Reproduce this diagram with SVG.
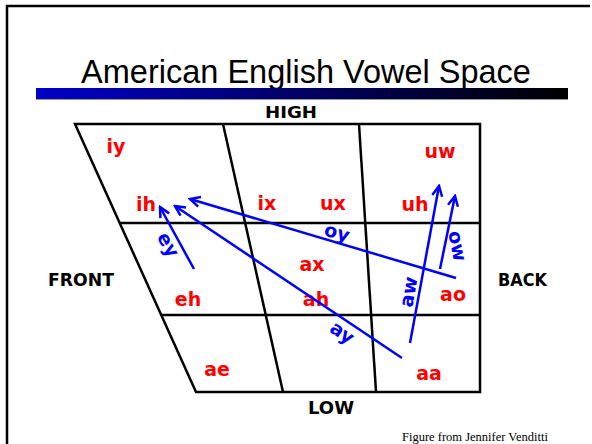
<svg xmlns="http://www.w3.org/2000/svg" width="592" height="444" viewBox="0 0 592 444">
<defs>
<linearGradient id="bar" x1="0" y1="0" x2="1" y2="0">
<stop offset="0" stop-color="#0000c8"/>
<stop offset="1" stop-color="#000000"/>
</linearGradient>
<marker id="ah" markerUnits="userSpaceOnUse" viewBox="-12 -7 14 14" refX="0" refY="0" markerWidth="14" markerHeight="14" orient="auto">
<path d="M-10,-5 L0,0 L-10,5" fill="none" stroke="#0000ff" stroke-width="2.5" stroke-linejoin="miter"/>
</marker>
<style>
.frame{fill:none;stroke:#000;stroke-width:2.5}
.grid{fill:none;stroke:#000;stroke-width:2.5;stroke-linejoin:miter}
.title{font-family:"Liberation Sans",Arial,sans-serif;font-size:32.5px;fill:#000}
.lbl{font-family:"Comic Sans MS","DejaVu Sans",sans-serif;font-weight:bold;font-size:18px;fill:#000}
.v{font-family:"Comic Sans MS","DejaVu Sans",sans-serif;font-weight:bold;font-size:19px;fill:#ff0000;text-anchor:middle}
.d{font-family:"Comic Sans MS","DejaVu Sans",sans-serif;font-weight:bold;font-size:19px;fill:#0000ff;text-anchor:middle}
.arr{fill:none;stroke:#0000ff;stroke-width:2.5;marker-end:url(#ah)}
.cap{font-family:"Liberation Serif","Times New Roman",serif;font-size:12.5px;fill:#000}
</style>
</defs>
<rect width="592" height="444" fill="#fff"/>
<path class="frame" d="M7,444 V6 H590"/>
<text class="title" x="306" y="83" text-anchor="middle">American English Vowel Space</text>
<rect x="36" y="88" width="532" height="11" fill="url(#bar)"/>
<line x1="36" y1="99.5" x2="568" y2="99.5" stroke="#999" stroke-width="1"/>

<g id="chart">
<path class="grid" d="M75,124 H480 V392 H196 Z"/>
<line class="grid" x1="120" y1="223" x2="480" y2="223"/>
<line class="grid" x1="161" y1="315" x2="480" y2="315"/>
<line class="grid" x1="223" y1="124" x2="283" y2="392"/>
<line class="grid" x1="359" y1="124" x2="376" y2="392"/>
</g>

<g id="axis-labels">
<text id="high" class="lbl" x="291" y="118" text-anchor="middle" textLength="52" lengthAdjust="spacingAndGlyphs" style="font-size:16px">HIGH</text>
<text id="front" class="lbl" x="48" y="286" textLength="66" lengthAdjust="spacingAndGlyphs">FRONT</text>
<text id="back" class="lbl" x="498" y="286" textLength="49" lengthAdjust="spacingAndGlyphs">BACK</text>
<text id="low" class="lbl" x="308" y="414" textLength="46" lengthAdjust="spacingAndGlyphs">LOW</text>
</g>

<g id="vowels">
<text id="iy" class="v" x="116" y="153">iy</text>
<text id="ih" class="v" x="146" y="211">ih</text>
<text id="ix" class="v" x="267" y="210">ix</text>
<text id="ux" class="v" x="333" y="210">ux</text>
<text id="uh" class="v" x="415" y="211">uh</text>
<text id="uw" class="v" x="440" y="158">uw</text>
<text id="ax" class="v" x="312" y="271">ax</text>
<text id="eh" class="v" x="188" y="306">eh</text>
<text id="ahl" class="v" x="316" y="306">ah</text>
<text id="ao" class="v" x="453" y="301">ao</text>
<text id="ae" class="v" x="217" y="376">ae</text>
<text id="aa" class="v" x="429" y="380">aa</text>
</g>

<g id="connectors">
<line class="arr" x1="194" y1="269" x2="160" y2="207"/>
<line class="arr" x1="402" y1="358" x2="175" y2="206"/>
<line class="arr" x1="456" y1="278" x2="190" y2="199"/>
<line class="arr" x1="410" y1="343" x2="439" y2="186"/>
<line class="arr" x1="440" y1="269" x2="455" y2="196"/>
</g>

<g id="diphthong-labels">
<text class="d" transform="translate(168,245) rotate(61)" y="6">ey</text>
<text class="d" transform="translate(342,333) rotate(34)" y="6">ay</text>
<text class="d" transform="translate(337,233) rotate(17)" y="6">oy</text>
<text class="d" transform="translate(409,292) rotate(-80)" y="6">aw</text>
<text class="d" transform="translate(457,246) rotate(79)" y="6">ow</text>
</g>

<text class="cap" x="402" y="441">Figure from Jennifer Venditti</text>
</svg>
